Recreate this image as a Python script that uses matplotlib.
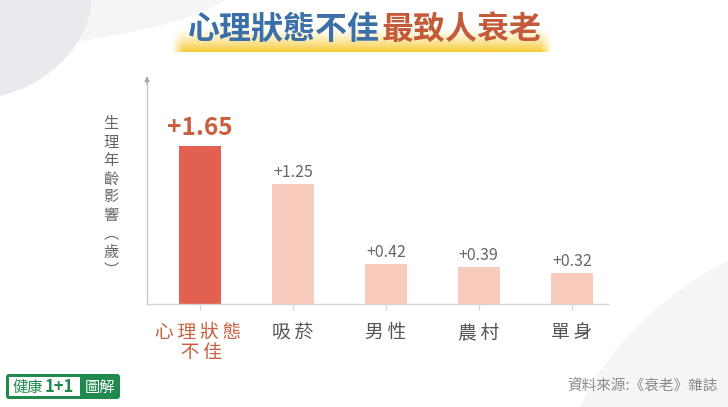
import numpy as np
import matplotlib
matplotlib.use("Agg")
import matplotlib.pyplot as plt
from matplotlib.patches import Ellipse, FancyBboxPatch, Rectangle

plt.rcParams['font.family'] = ['Noto Sans CJK TC', 'DejaVu Sans']

categories = ["心理狀態\n不佳", "吸菸", "男性", "農村", "單身"]
values = [1.65, 1.25, 0.42, 0.39, 0.32]
value_labels = ["+1.65", "+1.25", "+0.42", "+0.39", "+0.32"]
bar_colors = ["#e2604f", "#f9cbbd", "#f9cbbd", "#f9cbbd", "#f9cbbd"]

W, H = 728, 407
fig = plt.figure(figsize=(W / 100, H / 100), dpi=100)
fig.patch.set_facecolor("white")

# background decoration
bg = fig.add_axes([0, 0, 1, 1], zorder=0)
bg.set_xlim(0, W)
bg.set_ylim(H, 0)
bg.axis("off")
bg.add_patch(Ellipse((40, -10), 420, 110, angle=-5, color="#f4f5f7", lw=0))
bg.add_patch(Ellipse((-10, 10), 210, 170, angle=-25, color="#e8eaed", lw=0))
bg.add_patch(Ellipse((770, 410), 460, 300, angle=-35, color="#f4f5f7", lw=0))

# yellow highlight under title
grad = np.linspace(0, 1, 50).reshape(-1, 1)
xfade = np.minimum(1, np.minimum(np.linspace(0, 1, 200) / 0.03, np.linspace(1, 0, 200) / 0.03)).reshape(1, -1)
alpha = grad ** 1.3 * xfade
rgba = np.zeros((50, 200, 4))
rgba[..., 0] = 0.97
rgba[..., 1] = 0.80
rgba[..., 2] = 0.22
rgba[..., 3] = alpha
bg.imshow(rgba, extent=[171, 553, 52, 27], aspect="auto", zorder=1)

# title
bg.text(380, 30, "心理狀態不佳", fontsize=23, fontweight="heavy", color="#3a6fa8",
        ha="right", va="center", zorder=2)
bg.text(382, 30, "最致人衰老", fontsize=23, fontweight="heavy", color="#c35a3a",
        ha="left", va="center", zorder=2)

# main chart
ax = fig.add_axes([147 / W, 1 - 304 / H, (608 - 147) / W, (304 - 80) / H], zorder=2)
ax.patch.set_alpha(0)
x = np.arange(len(categories))
ax.bar(x, values, width=0.45, color=bar_colors, zorder=2)
ax.set_xlim(-0.57, 4.39)
ax.set_ylim(0, 2.34)

for s in ["top", "right"]:
    ax.spines[s].set_visible(False)
ax.spines["left"].set_color("#c8c8c8")
ax.spines["bottom"].set_color("#d4d4d4")
ax.spines["left"].set_linewidth(1)
ax.spines["bottom"].set_linewidth(1)
ax.set_yticks([])
ax.set_xticks(x)
ax.set_xticklabels(["\u2009".join(c) for c in categories], fontsize=13.5, linespacing=0.95)
ax.tick_params(axis="x", length=4, color="#d4d4d4", pad=9)
for i, lbl in enumerate(ax.get_xticklabels()):
    lbl.set_color("#c8603f" if i == 0 else "#555555")

# arrow on y axis
ax.annotate("", xy=(0, 1.03), xytext=(0, 0.97), xycoords="axes fraction",
            arrowprops=dict(arrowstyle="-|>", color="#aaaaaa", lw=1, mutation_scale=7),
            annotation_clip=False)

for i, (v, lab) in enumerate(zip(values, value_labels)):
    if i == 0:
        ax.text(x[i], v + 0.06, lab, ha="center", va="bottom", fontsize=17.5,
                fontweight="bold", color="#c8603f")
    else:
        ax.text(x[i], v + 0.03, lab, ha="center", va="bottom", fontsize=11.5,
                color="#666666")

# vertical y label
ylab = "生理年齡影響︵歲︶"
bg.text(111, 197, "\n".join(ylab), fontsize=11, color="#666666", ha="center",
        va="center", linespacing=1.1, zorder=2)

# logo
bg.add_patch(FancyBboxPatch((6, 374), 114, 25, boxstyle="round,pad=0,rounding_size=3",
                            color="#1f8a4c", lw=0, zorder=2))
bg.add_patch(Rectangle((9, 377), 71, 19, color="white", lw=0, zorder=3))
bg.text(12, 387, "健康", fontsize=11, color="#1f8a4c", ha="left", va="center", zorder=4)
bg.text(45, 387, "1+1", fontsize=12, fontweight="bold", color="#1f8a4c", ha="left",
        va="center", zorder=4)
bg.text(100, 387, "圖解", fontsize=11, color="white", ha="center", va="center", zorder=4)

# source
bg.text(718, 387, "資料來源:《衰老》雜誌", fontsize=10.5, color="#8a8a8a", ha="right",
        va="center", zorder=2)

fig.savefig("out.png", dpi=100, facecolor="white")
